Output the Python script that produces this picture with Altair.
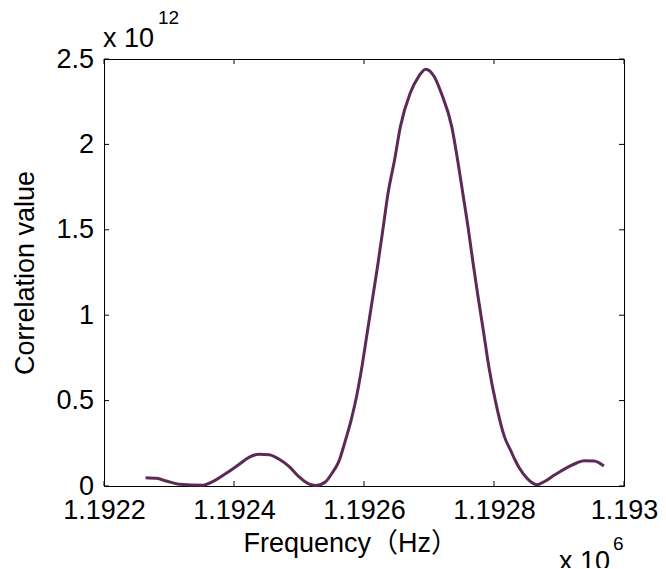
import altair as alt
import pandas as pd

# Frequency samples (Hz) and correlation values (x 1e12)
freq_hz = [1192264, 1192281, 1192296, 1192316, 1192352, 1192367, 1192388, 1192408, 1192423, 1192439,
           1192454, 1192469, 1192485, 1192500, 1192515, 1192526, 1192541, 1192551, 1192561, 1192571,
           1192581, 1192589, 1192596, 1192604, 1192612, 1192621, 1192629, 1192637, 1192647, 1192656,
           1192671, 1192684, 1192695, 1192708, 1192719, 1192735, 1192744, 1192752, 1192760, 1192768,
           1192775, 1192784, 1192792, 1192803, 1192816, 1192826, 1192832, 1192839, 1192852, 1192866,
           1192877, 1192893, 1192913, 1192928, 1192939, 1192954, 1192969]
corr_e12 = [0.049, 0.045, 0.029, 0.010, 0.004, 0.025, 0.074, 0.127, 0.168, 0.186,
            0.183, 0.158, 0.113, 0.054, 0.012, 0.003, 0.025, 0.076, 0.141, 0.262,
            0.398, 0.533, 0.679, 0.874, 1.070, 1.290, 1.500, 1.714, 1.909, 2.104,
            2.299, 2.397, 2.440, 2.397, 2.299, 2.104, 1.909, 1.714, 1.518, 1.300,
            1.120, 0.900, 0.700, 0.484, 0.289, 0.205, 0.155, 0.105, 0.040, 0.008,
            0.025, 0.064, 0.109, 0.136, 0.148, 0.146, 0.117]

x_ticks = [1.1922, 1.1924, 1.1926, 1.1928, 1.193]
y_ticks = [0, 0.5, 1, 1.5, 2, 2.5]
x_title = "Frequency（Hz）"
y_title = "Correlation value"
x_exp_base, x_exp_pow = "x 10", "6"
y_exp_base, y_exp_pow = "x 10", "12"

W, H = 520, 427
FONT = "Liberation Sans, Arial, Noto Sans CJK SC, sans-serif"
LINE_COLOR = "#5d2a55"

df = pd.DataFrame({"f": [v / 1e6 for v in freq_hz], "c": corr_e12})
xt = pd.DataFrame({"t": x_ticks})
yt = pd.DataFrame({"t": y_ticks})

xs = alt.Scale(domain=[1.1922, 1.193], nice=False, zero=False)
ys = alt.Scale(domain=[0, 2.5], nice=False)

x_axis = alt.Axis(
    values=x_ticks, format="~g", title=x_title, ticks=False, tickSize=0, domain=False, grid=False,
    labelFont=FONT, labelFontSize=27, labelColor="black", labelPadding=11,
    labelFlush=False, labelOverlap=False, labelBound=False,
    titleFont=FONT, titleFontSize=27, titleFontWeight="normal", titleColor="black",
    titleAlign="left", titleBaseline="alphabetic", titleX=139, titleY=65)
y_axis = alt.Axis(
    values=y_ticks, format="~g", title=y_title, ticks=False, tickSize=0, domain=False, grid=False,
    labelFont=FONT, labelFontSize=27, labelColor="black", labelPadding=10.5,
    labelOverlap=False, labelBound=False, labelFlush=False,
    titleFont=FONT, titleFontSize=27, titleFontWeight="normal", titleColor="black",
    titleAngle=270, titleAlign="center", titleBaseline="alphabetic", titleX=-71, titleY=H / 2)

line = alt.Chart(df).mark_line(color=LINE_COLOR, strokeWidth=3, interpolate="monotone").encode(
    x=alt.X("f:Q", scale=xs, axis=x_axis),
    y=alt.Y("c:Q", scale=ys, axis=y_axis),
)

tick_len = 5
bottom_ticks = alt.Chart(xt).mark_rule(color="black", strokeWidth=1).encode(
    x=alt.X("t:Q", scale=xs, axis=x_axis), y=alt.value(H), y2=alt.value(H - tick_len))
top_ticks = alt.Chart(xt).mark_rule(color="black", strokeWidth=1).encode(
    x=alt.X("t:Q", scale=xs, axis=x_axis), y=alt.value(0), y2=alt.value(tick_len))
left_ticks = alt.Chart(yt).mark_rule(color="black", strokeWidth=1).encode(
    y=alt.Y("t:Q", scale=ys, axis=y_axis), x=alt.value(0), x2=alt.value(tick_len))
right_ticks = alt.Chart(yt).mark_rule(color="black", strokeWidth=1).encode(
    y=alt.Y("t:Q", scale=ys, axis=y_axis), x=alt.value(W), x2=alt.value(W - tick_len))

one = alt.Data(values=[{}])


def label(text, x, y, size):
    return alt.Chart(one).mark_text(font=FONT, fontSize=size, color="black", align="left",
                                    baseline="alphabetic").encode(
        x=alt.value(x), y=alt.value(y), text=alt.value(text))


texts = [
    label(y_exp_base, -1, -12, 27),
    label(y_exp_pow, 54, -35, 19),
    label(x_exp_base, 455, 511, 27),
    label(x_exp_pow, 509, 491, 19),
]

chart = alt.layer(line, bottom_ticks, top_ticks, left_ticks, right_ticks, *texts).properties(
    width=W, height=H,
    autosize=alt.AutoSizeParams(type="none"),
    padding={"left": 96, "top": 51, "right": 34, "bottom": 82},
    background="white",
).configure_view(stroke="black", strokeWidth=1)

chart.save("out.html", embed_options={"renderer": "svg", "actions": False})
